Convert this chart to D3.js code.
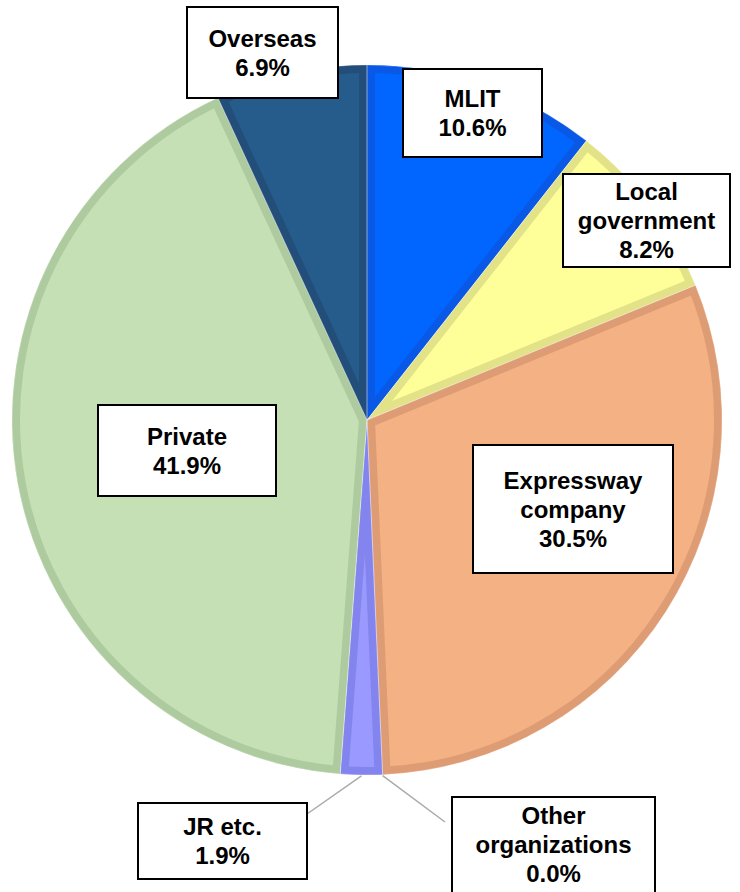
<!DOCTYPE html>
<html>
<head>
<meta charset="utf-8">
<script src="https://cdn.jsdelivr.net/npm/d3@7"></script>
<style>
  html, body { margin: 0; padding: 0; background: #fff; }
  svg { display: block; }
</style>
</head>
<body>
<svg id="chart" width="740" height="892"></svg>
<script>
// ---- data ----
const categories = ["MLIT", "Local government", "Expressway company", "Other organizations", "JR etc.", "Private", "Overseas"];
const values = [10.6, 8.2, 30.5, 0.0, 1.9, 41.9, 6.9];
const labelLines = [["MLIT"], ["Local", "government"], ["Expressway", "company"], ["Other", "organizations"], ["JR etc."], ["Private"], ["Overseas"]];

// ---- styles ----
const fills   = ["#0066FF", "#FFFF99", "#F4B183", "#B4A7D6", "#9999FF", "#C5E0B4", "#255C8C"];
const strokes = ["#0A58E6", "#E2E288", "#DE9C74", "#9E92C0", "#8484EE", "#AECB9F", "#224E79"];

// label box layout (x, y, w, h) and optional leader line target
const boxes = [
  {x: 403, y: 69,  w: 139, h: 88},
  {x: 563, y: 174, w: 167, h: 93},
  {x: 473, y: 445, w: 200, h: 128},
  {x: 452, y: 797, w: 203, h: 110, leader: [445, 822]},
  {x: 138, y: 803, w: 169, h: 76,  leader: [307, 814]},
  {x: 98,  y: 405, w: 178, h: 91},
  {x: 187, y: 7,   w: 151, h: 91}
];

const cx = 367, cy = 420, R = 355, inset = 8;
const svg = d3.select("#chart");
const g = svg.append("g").attr("transform", `translate(${cx},${cy})`);

const pie = d3.pie().sort(null).value(d => d.v);
const data = categories.map((c, i) => ({c, v: values[i], i}));
const arcs = pie(data);
const arc = d3.arc().innerRadius(0).outerRadius(R);

const defs = svg.append("defs");
arcs.forEach((a, i) => {
  if (a.endAngle - a.startAngle <= 0) return;
  defs.append("clipPath").attr("id", "clip" + i)
    .append("path").attr("d", arc(a));
});

g.selectAll("path.slice")
  .data(arcs.filter(a => a.endAngle > a.startAngle))
  .join("path")
  .attr("class", "slice")
  .attr("d", arc)
  .attr("fill", d => fills[d.data.i])
  .attr("stroke", d => strokes[d.data.i])
  .attr("stroke-width", inset * 2)
  .attr("stroke-linejoin", "miter")
  .attr("clip-path", d => `url(#clip${d.data.i})`);

// thin light separators
g.selectAll("path.sep")
  .data(arcs.filter(a => a.endAngle > a.startAngle))
  .join("path")
  .attr("class", "sep")
  .attr("d", arc)
  .attr("fill", "none")
  .attr("stroke", "rgba(255,255,255,0.35)")
  .attr("stroke-width", 0.8);

// leader lines
arcs.forEach((a, i) => {
  const b = boxes[i];
  if (!b.leader) return;
  const mid = (a.startAngle + a.endAngle) / 2;
  const sx = cx + Math.sin(mid) * (R + 1), sy = cy - Math.cos(mid) * (R + 1);
  svg.append("line")
    .attr("x1", sx).attr("y1", sy)
    .attr("x2", b.leader[0]).attr("y2", b.leader[1])
    .attr("stroke", "#AAAAAA").attr("stroke-width", 1.5);
});

// label boxes
const lineH = 29, fs = 24;
arcs.forEach((a, i) => {
  const b = boxes[i];
  const lg = svg.append("g");
  lg.append("rect")
    .attr("x", b.x).attr("y", b.y).attr("width", b.w).attr("height", b.h)
    .attr("fill", "#fff").attr("stroke", "#000").attr("stroke-width", 2);
  const lines = labelLines[i].concat([d3.format(".1f")(values[i]) + "%"]);
  const n = lines.length;
  let cyText = b.y + b.h / 2;
  if (categories[i] === "Other organizations") cyText = b.y + 47;
  const firstBase = cyText - (n - 1) * lineH / 2 + fs * 0.36;
  lines.forEach((t, k) => {
    lg.append("text")
      .attr("x", b.x + b.w / 2)
      .attr("y", firstBase + k * lineH)
      .attr("text-anchor", "middle")
      .attr("font-family", "'Liberation Sans', Arial, sans-serif")
      .attr("font-weight", "bold")
      .attr("font-size", fs)
      .attr("fill", "#000")
      .text(t);
  });
});
</script>
</body>
</html>
